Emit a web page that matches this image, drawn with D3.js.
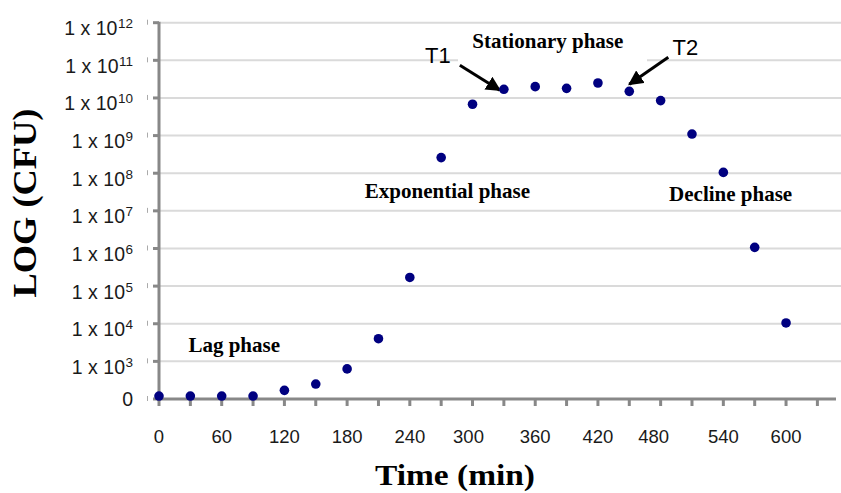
<!DOCTYPE html>
<html>
<head>
<meta charset="utf-8">
<script src="https://cdn.jsdelivr.net/npm/d3@7"></script>
<style>
  body { margin: 0; background: #fff; }
  svg { display: block; }
  .tickText { font-family: "Liberation Sans", Arial, sans-serif; fill: #1a1a1a; }
  .aText { font-family: "Liberation Serif", "Times New Roman", serif; font-weight: bold; fill: #000; }
</style>
</head>
<body>
<div id="chart"></div>
<script>
var svgWidth = 841;
var svgHeight = 493;

// time in minutes, counts in CFU
var times = [0, 30, 60, 90, 120, 150, 180, 210, 240, 270, 300, 330, 360, 390, 420, 450, 480, 510, 540, 570, 600];
var cfu = [1.2e2, 1.2e2, 1.2e2, 1.2e2, 1.7e2, 2.5e2, 6.3e2, 4e3, 1.7e5, 2.6e8, 6.8e9, 1.7e10, 2.0e10, 1.8e10, 2.5e10, 1.5e10, 8.5e9, 1.1e9, 1.05e8, 1.07e6, 1.05e4];

var xTicks = [0, 30, 60, 90, 120, 150, 180, 210, 240, 270, 300, 330, 360, 390, 420, 450, 480, 510, 540, 570, 600, 630];
var xLabels = [0, 60, 120, 180, 240, 300, 360, 420, 480, 540, 600];
var yTicks = [1e2, 1e3, 1e4, 1e5, 1e6, 1e7, 1e8, 1e9, 1e10, 1e11, 1e12];

var phases = [
  { text: "Lag phase", t: 72, v: Math.pow(10, 3.25) },
  { text: "Exponential phase", t: 276, v: Math.pow(10, 7.35) },
  { text: "Decline phase", t: 547, v: Math.pow(10, 7.27) },
  { text: "Stationary phase", t: 372, v: Math.pow(10, 11.34) }
];

var svg = d3.select("#chart")
  .append("svg")
  .attr("width", svgWidth)
  .attr("height", svgHeight);

var xScale = d3.scaleLinear()
  .domain([0, 647.8])
  .range([159, 836]);

var yScale = d3.scaleLog()
  .domain([1e2, 1e12])
  .range([399, 22.7]);

// gridlines
svg.append("g")
  .selectAll("line")
  .data(yTicks.slice(1))
  .enter()
  .append("line")
  .attr("x1", 160)
  .attr("x2", svgWidth)
  .attr("y1", d => yScale(d))
  .attr("y2", d => yScale(d))
  .attr("stroke", "#dadada")
  .attr("stroke-width", 2);

// white box behind the stationary label
svg.append("rect")
  .attr("x", 458)
  .attr("y", yScale(1e11) - 3)
  .attr("width", 189)
  .attr("height", 6)
  .attr("fill", "#fff");

// y axis
var yAxis = svg.append("g");
yAxis.append("line")
  .attr("x1", 159).attr("x2", 159)
  .attr("y1", yScale(1e12) - 1).attr("y2", yScale(1e2) + 2)
  .attr("stroke", "#888").attr("stroke-width", 3);
yAxis.selectAll(".ytick")
  .data(yTicks)
  .enter()
  .append("line")
  .attr("x1", 153).attr("x2", 159)
  .attr("y1", d => yScale(d)).attr("y2", d => yScale(d))
  .attr("stroke", "#888").attr("stroke-width", 3);
yAxis.selectAll(".ymark")
  .data(yTicks)
  .enter()
  .append("line")
  .attr("x1", 147.5).attr("x2", 147.5)
  .attr("y1", d => yScale(d) - 3).attr("y2", d => yScale(d) + 2)
  .attr("stroke", "#aaa").attr("stroke-width", 1);

var yLab = yAxis.selectAll(".ylab")
  .data(yTicks)
  .enter()
  .append("text")
  .classed("tickText", true)
  .attr("x", 133)
  .attr("y", d => d === 1e2 ? yScale(d) + 6.5 : yScale(d) + 12.5)
  .attr("text-anchor", "end")
  .style("font-size", "19.5px");
yLab.filter(d => d === 1e2).text("0");
yLab.filter(d => d !== 1e2).each(function(d) {
  var t = d3.select(this);
  t.append("tspan").text("1 x 10");
  t.append("tspan")
    .attr("dy", -7)
    .attr("dx", 0.5)
    .style("font-size", "13.5px")
    .text(Math.round(Math.log10(d)));
});

// x axis
var xAxis = svg.append("g");
xAxis.append("line")
  .attr("x1", 157).attr("x2", 836)
  .attr("y1", 399).attr("y2", 399)
  .attr("stroke", "#888").attr("stroke-width", 3);
xAxis.selectAll(".xtick")
  .data(xTicks)
  .enter()
  .append("line")
  .attr("x1", d => xScale(d)).attr("x2", d => xScale(d))
  .attr("y1", 399).attr("y2", 406)
  .attr("stroke", "#888").attr("stroke-width", 3);

var labelNudge = { 300: -4, 480: -7 };
xAxis.selectAll(".xlab")
  .data(xLabels)
  .enter()
  .append("text")
  .classed("tickText", true)
  .attr("x", d => xScale(d) + (labelNudge[d] || 0))
  .attr("y", 443)
  .attr("text-anchor", "middle")
  .style("font-size", "18.5px")
  .text(d => d);

// axis titles
svg.append("text")
  .classed("aText", true)
  .attr("x", 455)
  .attr("y", 485)
  .attr("text-anchor", "middle")
  .attr("textLength", 160)
  .attr("lengthAdjust", "spacingAndGlyphs")
  .style("font-size", "30px")
  .text("Time (min)");

svg.append("text")
  .classed("aText", true)
  .attr("transform", "translate(36,203) rotate(-90)")
  .attr("text-anchor", "middle")
  .attr("textLength", 189)
  .attr("lengthAdjust", "spacingAndGlyphs")
  .style("font-size", "33px")
  .text("LOG (CFU)");

// phase labels
svg.selectAll(".phase")
  .data(phases)
  .enter()
  .append("text")
  .classed("aText", true)
  .attr("x", d => xScale(d.t))
  .attr("y", d => yScale(d.v))
  .attr("text-anchor", "middle")
  .style("font-size", "21px")
  .text(d => d.text);

// T1 / T2 arrows
svg.append("defs").append("marker")
  .attr("id", "head")
  .attr("viewBox", "0 0 10 10")
  .attr("refX", 9).attr("refY", 5)
  .attr("markerWidth", 15).attr("markerHeight", 15)
  .attr("markerUnits", "userSpaceOnUse")
  .attr("orient", "auto")
  .append("path")
  .attr("d", "M0,0 L10,5 L0,10 Z")
  .attr("fill", "#000");

var t1x = xScale(330), t1y = yScale(1.7e10);
var t2x = xScale(450), t2y = yScale(1.5e10);

svg.append("line")
  .attr("x1", t1x - 44).attr("y1", t1y - 24)
  .attr("x2", t1x - 4).attr("y2", t1y + 1)
  .attr("stroke", "#000").attr("stroke-width", 3)
  .attr("marker-end", "url(#head)");
svg.append("line")
  .attr("x1", t2x + 39).attr("y1", t2y - 34)
  .attr("x2", t2x).attr("y2", t2y - 7)
  .attr("stroke", "#000").attr("stroke-width", 3)
  .attr("marker-end", "url(#head)");

svg.append("text")
  .classed("tickText", true)
  .attr("x", t1x - 66).attr("y", t1y - 26)
  .attr("text-anchor", "middle")
  .style("font-size", "22px")
  .style("fill", "#000")
  .text("T1");
svg.append("text")
  .classed("tickText", true)
  .attr("x", t2x + 56).attr("y", t2y - 36)
  .attr("text-anchor", "middle")
  .style("font-size", "22px")
  .style("fill", "#000")
  .text("T2");

// data points
svg.append("g")
  .selectAll("circle")
  .data(times)
  .enter()
  .append("circle")
  .attr("cx", d => xScale(d))
  .attr("cy", (d, i) => yScale(cfu[i]))
  .attr("r", 4.8)
  .attr("fill", "#000080");
</script>
</body>
</html>
